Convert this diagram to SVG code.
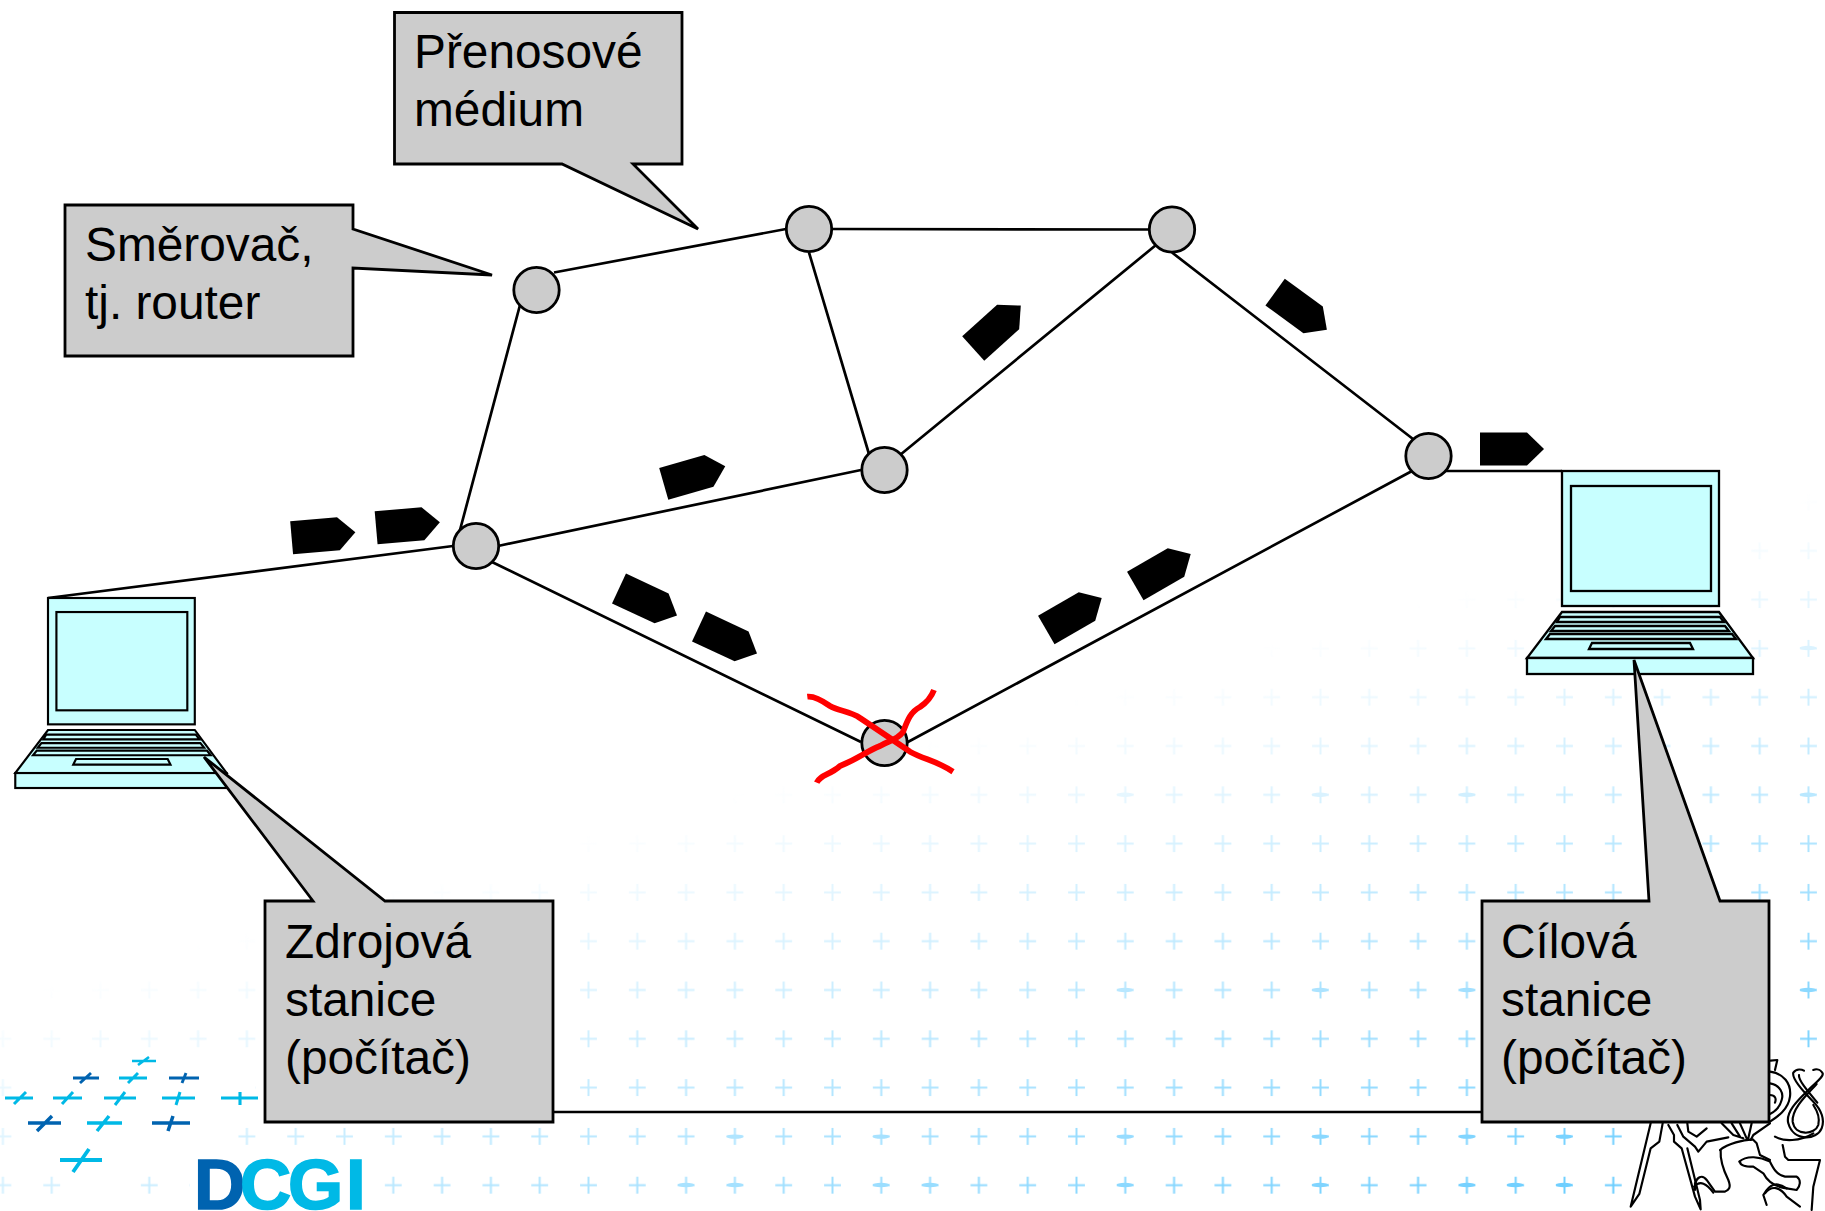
<svg xmlns="http://www.w3.org/2000/svg" width="1825" height="1211" viewBox="0 0 1825 1211">
<style>
text{font-family:"Liberation Sans",Arial,sans-serif;font-size:47.8px;fill:#000}
.box{fill:#ccc;stroke:#000;stroke-width:2.8;stroke-linejoin:miter}
.link{stroke:#000;stroke-width:2.7;fill:none}
.node{fill:#ccc;stroke:#000;stroke-width:2.8}
.pk{fill:#000}
.lap path,.lap rect{fill:#c8ffff;stroke:#000;stroke-width:2.3}
.x{fill:none;stroke:#f00;stroke-width:5.8;stroke-linejoin:round}
.lion{fill:none;stroke:#000;stroke-width:6.5;stroke-linejoin:round;stroke-linecap:round}
.lpd{fill:none;stroke:#0063b0}
.lpl{fill:none;stroke:#00b9e6}
</style>
<defs>
<linearGradient id="fade" gradientUnits="userSpaceOnUse" x1="0" y1="1000" x2="172" y2="1614">
<stop offset="0" stop-color="#000"/><stop offset="1" stop-color="#fff"/>
</linearGradient>
<mask id="fadeMask" maskUnits="userSpaceOnUse" x="0" y="0" width="1825" height="1211"><rect width="1825" height="1211" fill="url(#fade)"/></mask>
<pattern id="plus" patternUnits="userSpaceOnUse" x="-21.5" y="526.4" width="48.8" height="48.8">
<path d="M16,24.4H32.8M24.4,16V32.8" stroke="#66ccff" stroke-width="2" fill="none"/>
</pattern>
<ellipse id="em" rx="8.5" ry="2.2" fill="#66ccff"/>
<polygon id="packet" points="-32,-16.5 15,-16.5 32,0 15,16.5 -32,16.5"/>
<g id="laptop" class="lap">
<rect x="1562" y="471" width="157" height="135"/>
<rect x="1571" y="486" width="140" height="105"/>
<path d="M1562,612H1719L1753,658H1527Z"/>
<rect x="1527" y="658" width="226" height="16"/>
<path d="M1560,617H1720L1724,622H1557Z"/>
<path d="M1555,626H1725L1729,631H1551Z"/>
<path d="M1550,634H1732L1736,639H1546Z"/>
<path d="M1592,643H1690L1693,649H1589Z"/>
</g>
</defs>
<rect width="1825" height="1211" fill="#fff"/>
<g id="background" mask="url(#fadeMask)">
<rect width="1825" height="1211" fill="url(#plus)"/>
<g id="emphasis">
<use href="#em" x="686" y="1185"/><use href="#em" x="735" y="1185"/><use href="#em" x="881" y="1185"/><use href="#em" x="930" y="1185"/><use href="#em" x="1125" y="1185"/><use href="#em" x="1320" y="1185"/><use href="#em" x="1467" y="1185"/><use href="#em" x="1515" y="1185"/><use href="#em" x="1564" y="1185"/>
<use href="#em" x="735" y="1136.6"/><use href="#em" x="881" y="1136.6"/><use href="#em" x="1125" y="1136.6"/><use href="#em" x="1320" y="1136.6"/><use href="#em" x="1467" y="1136.6"/><use href="#em" x="1564" y="1136.6"/>
<use href="#em" x="1125" y="990"/><use href="#em" x="1320" y="990"/><use href="#em" x="1467" y="990"/><use href="#em" x="1808" y="990"/>
<use href="#em" x="1125" y="794.7"/><use href="#em" x="1320" y="794.7"/><use href="#em" x="1467" y="794.7"/><use href="#em" x="1808" y="794.7"/><use href="#em" x="1808" y="648"/>
</g>
</g>
<g id="logo-backing" fill="#fff">
<rect x="20" y="1060" width="235" height="55"/><rect x="20" y="1115" width="205" height="45"/><rect x="70" y="1160" width="55" height="51"/><rect x="190" y="1150" width="180" height="61"/>
<rect x="1630" y="1122" width="195" height="89"/><rect x="1769" y="1060" width="56" height="151"/>
</g>
<g id="logo">
<path class="lpl" stroke-width="2.6" d="M132,1061H156M149,1057L138,1065"/>
<path class="lpd" stroke-width="2.9" d="M73,1078H99M91,1073L80,1083"/>
<path class="lpl" stroke-width="2.9" d="M119,1078H147M138,1073L128,1083"/>
<path class="lpd" stroke-width="2.9" d="M169,1078H199M186,1073L182,1083"/>
<path class="lpl" stroke-width="3" d="M5,1098H33M26,1092L14,1104"/>
<path class="lpl" stroke-width="3" d="M53,1098H82M73,1092L62,1104"/>
<path class="lpl" stroke-width="3" d="M104,1098H136M125,1092L115,1105"/>
<path class="lpl" stroke-width="3" d="M162,1098H195M180,1092L176,1105"/>
<path class="lpl" stroke-width="3.1" d="M221,1098H258M240,1092V1105"/>
<path class="lpd" stroke-width="3.5" d="M28,1123H61M52,1116L37,1131"/>
<path class="lpl" stroke-width="3.5" d="M87,1123H122M109,1116L97,1131"/>
<path class="lpd" stroke-width="3.5" d="M152,1123H190M173,1116L168,1131"/>
<path class="lpl" stroke-width="3.8" d="M60,1160H102M89,1149L73,1172"/>
<text x="194 240 288 346" y="1209" style="font-size:71px;font-weight:bold" stroke-width="1.6"><tspan fill="#0063b0" stroke="#0063b0">D</tspan><tspan fill="#00b9e6" stroke="#00b9e6">CGI</tspan></text>
</g>
<g id="lion" class="lion" transform="translate(1600,1040) scale(.3333)">
<path d="M152,250L92,500L118,462L152,325L178,305L188,250"/>
<path d="M205,255L222,285L222,305L245,325L285,470L302,508L300,480L262,325"/>
<path d="M232,255L250,290L285,320L295,335L320,305L385,292"/>
<path d="M262,250L265,275L290,290L320,265"/>
<path d="M360,330C385,310 430,300 458,298L470,310L480,345L510,360"/>
<path d="M365,250L400,285L430,295M395,250L420,290M420,250L440,295M455,250L445,295M510,250L460,285L452,300"/>
<path d="M362,330C360,360 375,400 385,420C395,445 385,450 375,455L345,455L320,420C305,400 290,415 285,430L285,450"/>
<path d="M282,440C300,420 320,430 340,458"/>
<path d="M418,365C440,345 480,350 510,365C520,385 530,405 555,410L590,410C605,420 600,440 590,450L560,445C530,425 510,430 490,465L500,495"/>
<path d="M420,365C420,375 430,380 460,380L490,400C500,420 520,440 560,445"/>
<path d="M495,460C515,435 540,440 560,470L600,500M548,315L555,350L565,360L660,360L640,440L635,510"/>
<path d="M512,62L532,60L525,90M510,95C550,100 575,130 570,170C565,210 530,232 510,245M510,130C540,135 552,160 545,180C540,200 525,215 510,222M510,165C525,165 530,175 525,188"/>
<path d="M580,98C575,115 605,150 640,185C665,210 675,240 665,265C650,302 580,305 565,250C555,215 600,175 625,150C650,125 672,110 668,100C660,85 645,88 640,90M580,98C590,85 605,88 612,92"/>
<path d="M597,105C595,120 620,150 652,188M650,132C625,160 575,205 578,245C585,290 645,285 655,255C660,235 650,210 640,195"/>
<path d="M525,290C550,305 600,305 640,280"/>
</g>
<g id="connectors">
<path class="link" d="M554,272.5L786,229M832,229L1149,229.5M809,252.5L869,454M1156,245L900,455M1172,252.5L1413,439M520,305L460,530M498,546L861,470M492,562L861,742M906,743L1412,471M453,546L48,598M1445,471H1562M553,1112H1482"/>
</g>
<g id="node-r1"><circle class="node" cx="536.5" cy="290" r="22.7"/></g>
<g id="node-r2"><circle class="node" cx="809" cy="229" r="22.7"/></g>
<g id="node-r3"><circle class="node" cx="1172" cy="229.5" r="22.7"/></g>
<g id="node-r4"><circle class="node" cx="884.5" cy="470" r="22.7"/></g>
<g id="node-r5"><circle class="node" cx="476" cy="546" r="22.7"/></g>
<g id="node-r6"><circle class="node" cx="1428.5" cy="456" r="22.7"/></g>
<g id="node-r7"><circle class="node" cx="884.5" cy="743" r="22.7"/></g>
<g id="packets" class="pk">
<use href="#packet" transform="translate(1512,449)"/>
<use href="#packet" transform="translate(1301,311) rotate(36)"/>
<use href="#packet" transform="translate(997,327) rotate(-42)"/>
<use href="#packet" transform="translate(694.5,475) rotate(-16)"/>
<use href="#packet" transform="translate(323.5,535) rotate(-5)"/>
<use href="#packet" transform="translate(408,525) rotate(-5)"/>
<use href="#packet" transform="translate(648,602) rotate(25)"/>
<use href="#packet" transform="translate(728,640) rotate(25)"/>
<use href="#packet" transform="translate(1074,614) rotate(-30)"/>
<use href="#packet" transform="translate(1163,570) rotate(-30)"/>
</g>
<g id="laptop-dest"><use href="#laptop"/></g>
<g id="laptop-src"><use href="#laptop" transform="translate(48,598) scale(.935,.936) translate(-1562,-471)"/></g>
<g id="failure"><path class="x" d="M807.3,696.7C813,696 820,699 830,706C838,711 850,711 860,718C875,728 890,738 910,751.7C925,760 935,760 953,771.7"/><path class="x" d="M934,690C931,698 926,703 920,707C910,712 907,722 903,732C897,740 890,740 880,746C865,752 860,758 840,766C830,775 820,775 816.7,782.7"/></g>
<g id="callout-medium"><path class="box" d="M394.5,12.5H682V164H633L698,229L562,164H394.5Z"/><text x="414" y="67.5">Přenosové</text><text x="414" y="126">médium</text></g>
<g id="callout-router"><path class="box" d="M65,205H353V229L492,275L353,268V356H65Z"/><text x="85" y="261">Směrovač,</text><text x="85" y="319">tj. router</text></g>
<g id="callout-source"><path class="box" d="M265,901H313L204,757L385,901H553V1122H265Z"/><text x="285" y="958">Zdrojová</text><text x="285" y="1016">stanice</text><text x="285" y="1074">(počítač)</text></g>
<g id="callout-dest"><path class="box" d="M1482,901H1649L1634,660L1720,901H1769V1122H1482Z"/><text x="1501" y="958">Cílová</text><text x="1501" y="1016">stanice</text><text x="1501" y="1074">(počítač)</text></g>
</svg>
